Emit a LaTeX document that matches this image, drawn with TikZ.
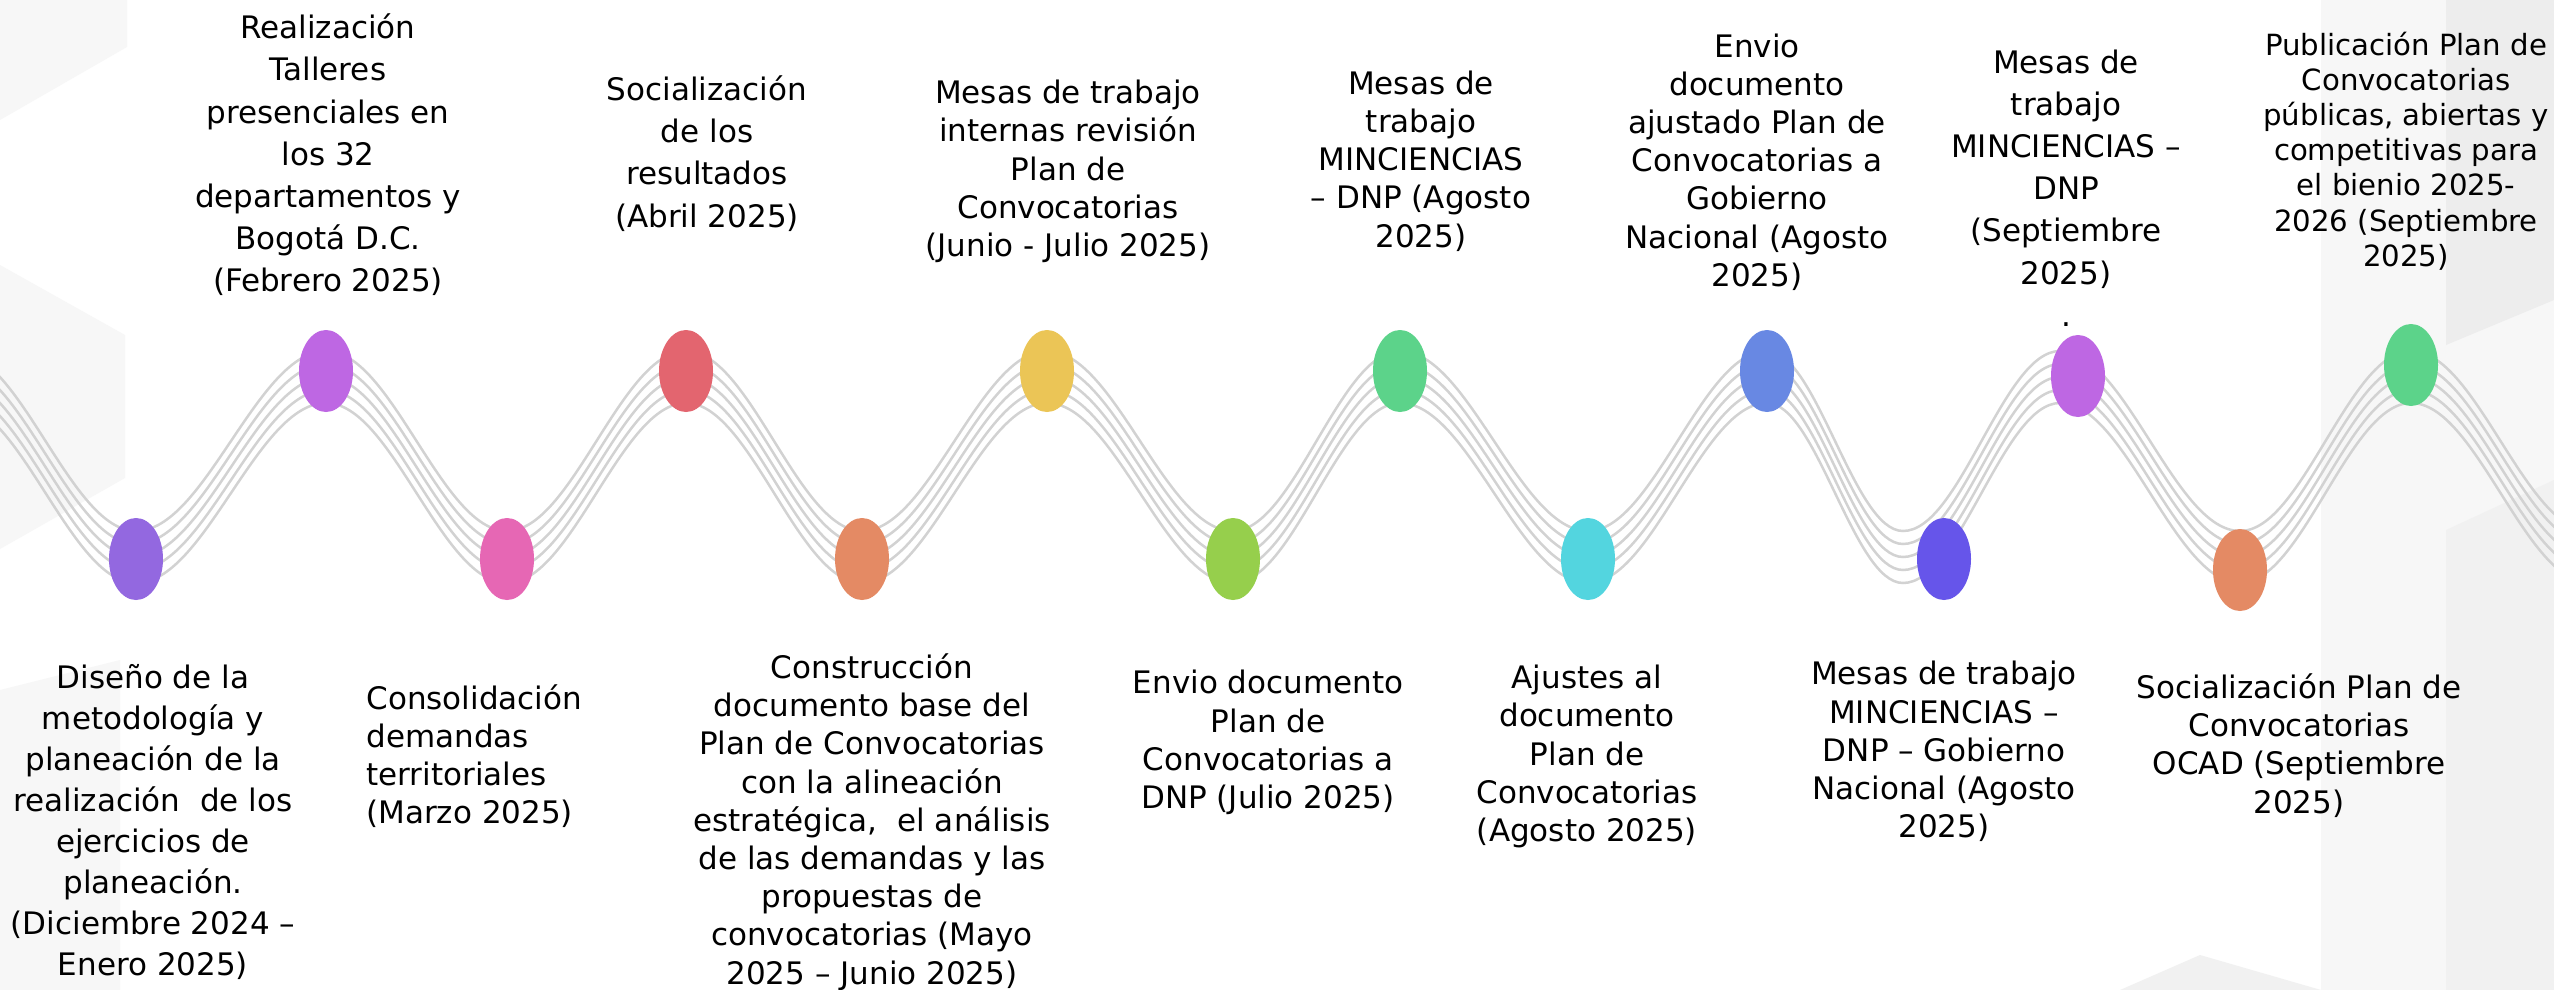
\documentclass[tikz,border=0pt]{standalone}
\usepackage{fontspec}
\setmainfont{DejaVu Sans}
\usetikzlibrary{shapes.geometric}
\definecolor{c1}{HTML}{9368E0}
\definecolor{c2}{HTML}{BE67E3}
\definecolor{c3}{HTML}{E667B4}
\definecolor{c4}{HTML}{E3656F}
\definecolor{c5}{HTML}{E48A64}
\definecolor{c6}{HTML}{EBC556}
\definecolor{c7}{HTML}{96CF4C}
\definecolor{c8}{HTML}{5CD38A}
\definecolor{c9}{HTML}{53D5DF}
\definecolor{c10}{HTML}{6888E3}
\definecolor{c11}{HTML}{6655EA}
\definecolor{wavegray}{HTML}{D2D2D2}
\definecolor{hexa}{HTML}{F7F7F7}
\definecolor{hexb}{HTML}{EDEDED}
\begin{document}
\begin{tikzpicture}[x=0.5pt,y=-0.5pt,
  dot/.style={ellipse, minimum width=27pt, minimum height=41pt, inner sep=0pt, draw=none},
  waveline/.style={draw=wavegray, line width=1.25pt},
  lbl/.style={align=center, inner sep=0pt, text=black, font=\fontsize{15.5}{19.1}\selectfont},
  lblw/.style={lbl, font=\fontsize{15.5}{21.1}\selectfont},
  lbls/.style={lbl, font=\fontsize{14.6}{17.6}\selectfont}]
\useasboundingbox (0,0) rectangle (2554,990);
\fill[white] (0,0) rectangle (2554,990);
% background hexagons
\fill[hexa] (0,0) -- (127,0) -- (127,47) -- (0,120) -- cycle;
\fill[hexa] (0,265) -- (125,335) -- (125,478) -- (0,549) -- cycle;
\fill[hexa] (0,690) -- (120,660) -- (120,990) -- (0,990) -- cycle;
\fill[hexa] (2321,0) -- (2554,0) -- (2554,990) -- (2321,990) -- cycle;
\fill[hexb] (2446,0) -- (2554,0) -- (2554,300) -- (2446,345) -- cycle;
\fill[hexb!60!hexa] (2446,530) -- (2554,480) -- (2554,990) -- (2446,990) -- cycle;
\fill[hexb!60!hexa] (2120,990) -- (2200,955) -- (2321,990) -- cycle;
% wave
\begin{scope}
\clip (0,0) rectangle (2554,990);
\foreach \o in {-26,-13,0,13,26}{
  \draw[waveline] (-45,{377+(\o)})
    cos (45.5,{467+(\o)}) sin (136,{557+(\o)})
    cos (231,{467+(\o)}) sin (326,{377+(\o)})
    cos (416.5,{467+(\o)}) sin (507,{557+(\o)})
    cos (596.5,{467+(\o)}) sin (686,{377+(\o)})
    cos (774,{467+(\o)}) sin (862,{557+(\o)})
    cos (954.5,{467+(\o)}) sin (1047,{377+(\o)})
    cos (1140,{467+(\o)}) sin (1233,{557+(\o)})
    cos (1316.5,{467+(\o)}) sin (1400,{377+(\o)})
    cos (1494,{467+(\o)}) sin (1588,{557+(\o)})
    cos (1677.5,{467+(\o)}) sin (1767,{377+(\o)})
    cos (1835,{467+(\o)}) sin (1903,{557+(\o)})
    cos (1981.5,{467+(\o)}) sin (2060,{377+(\o)})
    cos (2150,{467+(\o)}) sin (2240,{557+(\o)})
    cos (2325.5,{467+(\o)}) sin (2411,{377+(\o)})
    cos (2500.5,{467+(\o)}) sin (2590,{557+(\o)});
}
\end{scope}
% milestones
\node[dot, fill=c1]  (e1)  at (136,559) {};
\node[dot, fill=c2]  (e2)  at (326,371) {};
\node[dot, fill=c3]  (e3)  at (507,559) {};
\node[dot, fill=c4]  (e4)  at (686,371) {};
\node[dot, fill=c5]  (e5)  at (862,559) {};
\node[dot, fill=c6]  (e6)  at (1047,371) {};
\node[dot, fill=c7]  (e7)  at (1233,559) {};
\node[dot, fill=c8]  (e8)  at (1400,371) {};
\node[dot, fill=c9]  (e9)  at (1588,559) {};
\node[dot, fill=c10] (e10) at (1767,371) {};
\node[dot, fill=c11] (e11) at (1944,559) {};
\node[dot, fill=c2]  (e12) at (2078,376) {};
\node[dot, fill=c5]  (e13) at (2240,570) {};
\node[dot, fill=c8]  (e14) at (2411,365) {};
% top labels
\node[lblw] (t2) at (328,155) {Realización\\Talleres\\presenciales en\\los 32\\departamentos y\\Bogotá D.C.\\(Febrero 2025)};
\node[lblw] (t4) at (707,153.5) {Socialización\\de los\\resultados\\(Abril 2025)};
\node[lbl] (t6) at (1068,171.5) {Mesas de trabajo\\internas revisión\\Plan de\\Convocatorias\\(Junio - Julio 2025)};
\node[lbl] (t8) at (1421,161) {Mesas de\\trabajo\\MINCIENCIAS\\– DNP (Agosto\\2025)};
\node[lbl] (t10) at (1757,162) {Envio\\documento\\ajustado Plan de\\Convocatorias a\\Gobierno\\Nacional (Agosto\\2025)};
\node[lblw] (t12) at (2066,188) {Mesas de\\trabajo\\MINCIENCIAS –\\DNP\\(Septiembre\\2025)\\.};
\node[lbls] (t14) at (2406,151) {Publicación Plan de\\Convocatorias\\públicas, abiertas y\\competitivas para\\el bienio 2025-\\2026 (Septiembre\\2025)};
% bottom labels
\node[lbl, font=\fontsize{15.5}{20.5}\selectfont] (t1) at (153,821.5) {Diseño de la\\metodología y\\planeación de la\\realización\ \ de los\\ejercicios de\\planeación.\\(Diciembre 2024 –\\Enero 2025)};
\node[lbl, align=left, anchor=west] (t3) at (366,756) {Consolidación\\demandas\\territoriales\\(Marzo 2025)};
\node[lbl] (t5) at (872,822) {Construcción\\documento base del\\Plan de Convocatorias\\con la alineación\\estratégica,\ \ el análisis\\de las demandas y las\\propuestas de\\convocatorias (Mayo\\2025 – Junio 2025)};
\node[lbl] (t7) at (1268,742.5) {Envio documento\\Plan de\\Convocatorias a\\DNP (Julio 2025)};
\node[lbl] (t9) at (1587,756.5) {Ajustes al\\documento\\Plan de\\Convocatorias\\(Agosto 2025)};
\node[lbl] (t11) at (1944,751.5) {Mesas de trabajo\\MINCIENCIAS –\\DNP – Gobierno\\Nacional (Agosto\\2025)};
\node[lbl] (t13) at (2299,745.5) {Socialización Plan de\\Convocatorias\\OCAD (Septiembre\\2025)};
\end{tikzpicture}
\end{document}
